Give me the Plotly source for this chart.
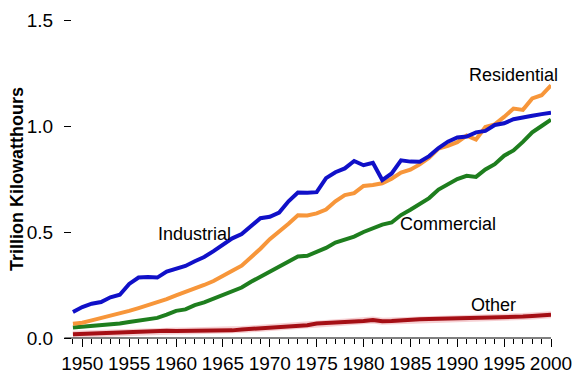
import plotly.graph_objects as go

years = list(range(1949, 2001))

industrial = [0.123, 0.146, 0.162, 0.170, 0.192, 0.204, 0.255, 0.285, 0.288, 0.285,
              0.313, 0.325, 0.340, 0.362, 0.382, 0.410, 0.440, 0.470, 0.490, 0.530,
              0.565, 0.572, 0.592, 0.645, 0.686, 0.685, 0.688, 0.754, 0.782, 0.800,
              0.835, 0.815, 0.826, 0.745, 0.776, 0.838, 0.832, 0.831, 0.858, 0.896,
              0.926, 0.946, 0.950, 0.970, 0.977, 1.005, 1.013, 1.032, 1.038, 1.048,
              1.056, 1.063]

residential = [0.067, 0.072, 0.083, 0.094, 0.104, 0.114, 0.128, 0.141, 0.154, 0.166,
               0.183, 0.201, 0.216, 0.232, 0.250, 0.269, 0.291, 0.317, 0.341, 0.380,
               0.421, 0.466, 0.500, 0.539, 0.579, 0.578, 0.588, 0.606, 0.645, 0.674,
               0.683, 0.717, 0.722, 0.730, 0.751, 0.780, 0.794, 0.819, 0.850, 0.893,
               0.906, 0.924, 0.955, 0.936, 0.995, 1.008, 1.043, 1.082, 1.076, 1.130,
               1.145, 1.192]

commercial = [0.049, 0.052, 0.056, 0.060, 0.064, 0.068, 0.075, 0.082, 0.088, 0.095,
              0.110, 0.128, 0.135, 0.155, 0.168, 0.185, 0.200, 0.218, 0.238, 0.265,
              0.290, 0.310, 0.335, 0.360, 0.385, 0.388, 0.405, 0.425, 0.450, 0.465,
              0.478, 0.500, 0.520, 0.535, 0.545, 0.580, 0.605, 0.630, 0.660, 0.700,
              0.725, 0.750, 0.765, 0.760, 0.795, 0.820, 0.860, 0.885, 0.925, 0.970,
              1.000, 1.030]

other = [0.018, 0.020, 0.022, 0.024, 0.025, 0.027, 0.028, 0.030, 0.031, 0.032,
         0.034, 0.033, 0.033, 0.033, 0.033, 0.033, 0.034, 0.036, 0.040, 0.043,
         0.046, 0.049, 0.052, 0.056, 0.058, 0.060, 0.068, 0.070, 0.071, 0.074,
         0.077, 0.080, 0.085, 0.079, 0.080, 0.084, 0.088, 0.089, 0.090, 0.091,
         0.093, 0.094, 0.096, 0.094, 0.095, 0.096, 0.096, 0.098, 0.101, 0.104,
         0.107, 0.110]

series = [
    ("Other", other, "#A50F15"),
    ("Commercial", commercial, "#1E7E1E"),
    ("Residential", residential, "#F7963A"),
    ("Industrial", industrial, "#1010C8"),
]

labels = [
    ("Industrial", 1962.0, 0.492),
    ("Residential", 1996.0, 1.24),
    ("Commercial", 1989.0, 0.54),
    ("Other", 1993.85, 0.156),
]

y_title = "Trillion Kilowatthours"
y_ticks = [0.0, 0.5, 1.0, 1.5]
y_tick_text = ["0.0", "0.5", "1.0", "1.5"]

fig = go.Figure()
# soft pink halo under the "Other" line, as in the reference
fig.add_trace(go.Scatter(x=years, y=other, mode="lines", hoverinfo="skip",
                         line=dict(color="rgba(230,120,130,0.35)", width=7),
                         showlegend=False, cliponaxis=False))
for name, vals, color in series:
    fig.add_trace(go.Scatter(x=years, y=vals, mode="lines", name=name,
                             line=dict(color=color, width=4), showlegend=False,
                             cliponaxis=False))

for text, x, y in labels:
    fig.add_annotation(x=x, y=y, text=text, showarrow=False,
                       font=dict(family="Arial, Liberation Sans", size=18, color="black"))

# rotated y-axis title
fig.add_annotation(xref="paper", yref="paper", x=-0.115, y=0.5, text="<b>" + y_title + "</b>",
                   textangle=-90, showarrow=False, xanchor="center", yanchor="middle",
                   font=dict(family="Arial, Liberation Sans", size=18, color="black"))

# x-axis baseline extends a little left of the plotting area (as in the reference)
fig.add_shape(type="line", xref="paper", yref="paper", x0=-0.016, x1=1, y0=0, y1=0,
              line=dict(color="black", width=1), layer="above")

fig.update_layout(
    width=579, height=375,
    margin=dict(l=72, r=28, t=20, b=37, autoexpand=False),
    plot_bgcolor="white", paper_bgcolor="white",
    font=dict(family="Arial, Liberation Sans", size=18, color="black"),
)
fig.update_xaxes(
    range=[1948.9, 2000], showgrid=False, zeroline=False, automargin=False,
    showline=False,
    tick0=1950, dtick=5, ticks="outside", ticklen=8, tickcolor="black",
    minor=dict(dtick=1, tick0=1949, ticks="outside", ticklen=5, tickcolor="black"),
    tickfont=dict(size=19),
)
fig.update_yaxes(
    range=[0, 1.5], showgrid=False, zeroline=False, showline=False, automargin=False,
    tickvals=y_ticks, ticktext=y_tick_text,
    ticks="outside", ticklen=7, tickcolor="black", tickwidth=1,
    tickfont=dict(size=19), ticklabelstandoff=7,
)

fig.write_html("out.html", config={"displayModeBar": False},
               post_script="document.body.style.margin='0';document.body.style.overflow='hidden';")
